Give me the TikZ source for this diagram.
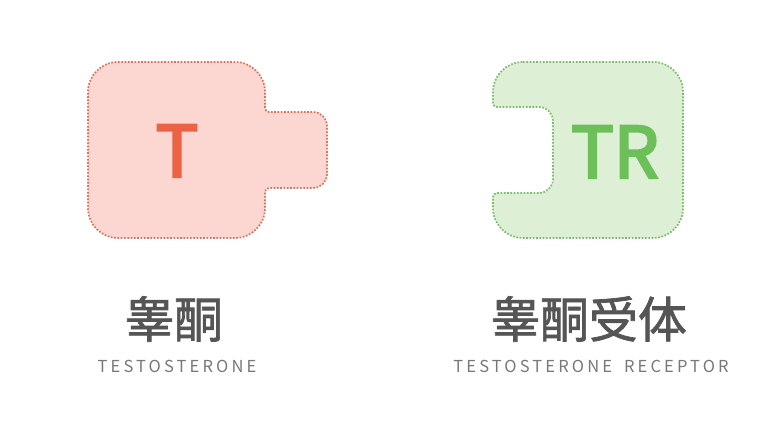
\documentclass[tikz,border=0pt]{standalone}
\usepackage{fontspec}
\usepackage{xcolor}
\usepackage{tikz}
\usetikzlibrary{positioning}
\setmainfont{Noto Sans CJK SC}
\newfontfamily\cjk[FakeBold=3.5]{Noto Sans CJK SC}
\newfontfamily\cjkmid[FakeBold=1.5]{Noto Sans CJK SC}
\newfontfamily\capsfont[LetterSpace=19]{Noto Sans CJK SC}
\definecolor{hormonefill}{RGB}{252,214,208}
\definecolor{hormoneline}{RGB}{222,112,92}
\definecolor{hormonetext}{RGB}{235,98,69}
\definecolor{receptorfill}{RGB}{221,240,213}
\definecolor{receptorline}{RGB}{120,190,104}
\definecolor{receptortext}{RGB}{109,191,90}
\definecolor{labeldark}{RGB}{85,85,85}
\definecolor{labelgray}{RGB}{120,120,120}
\tikzset{
  shapeline/.style={line width=1.7pt,dash pattern=on 1.7pt off 1.6pt},
  hormone/.style={shapeline,draw=hormoneline,fill=hormonefill},
  receptor/.style={shapeline,draw=receptorline,fill=receptorfill},
  bigletter/.style={inner sep=0pt,anchor=base,font=\cjk\fontsize{71}{71}\selectfont},
  cjklabel/.style={inner sep=0pt,anchor=center,text=labeldark,
    font=\cjkmid\fontsize{49}{49}\selectfont},
  enlabel/.style={inner sep=0pt,anchor=base,text=labelgray,
    font=\capsfont\fontsize{16.5}{16.5}\selectfont},
}
\begin{document}
\begin{tikzpicture}[x=1pt,y=1pt]
\useasboundingbox (0,0) rectangle (777,425);

%% ── testosterone ─────────────────────────────────────────────────────────
\draw[hormone] (118,363) -- (235,363) arc[start angle=90,end angle=0,radius=30]
  -- (265,317) arc[start angle=180,end angle=270,radius=4]
  -- (313,313) arc[start angle=90,end angle=0,radius=14]
  -- (327,251) arc[start angle=0,end angle=-90,radius=14]
  -- (269,237) arc[start angle=90,end angle=180,radius=4]
  -- (265,217) arc[start angle=0,end angle=-90,radius=30]
  -- (118,187) arc[start angle=270,end angle=180,radius=30]
  -- (88,333) arc[start angle=180,end angle=90,radius=30] -- cycle;
\node[bigletter,text=hormonetext] (tname) at (177,248) {T};
\node[cjklabel] (tcn) at (174,106) {睾酮};
\node[enlabel] (ten) at (177,52) {TESTOSTERONE};

%% ── testosterone receptor ────────────────────────────────────────────────
\draw[receptor] (523,363) -- (653,363) arc[start angle=90,end angle=0,radius=30]
  -- (683,217) arc[start angle=0,end angle=-90,radius=30]
  -- (523,187) arc[start angle=270,end angle=180,radius=30]
  -- (493,228) arc[start angle=180,end angle=90,radius=4]
  -- (539,232) arc[start angle=-90,end angle=0,radius=14]
  -- (553,304) arc[start angle=0,end angle=90,radius=14]
  -- (497,318) arc[start angle=270,end angle=180,radius=4]
  -- (493,333) arc[start angle=180,end angle=90,radius=30] -- cycle;
\node[bigletter,text=receptortext] (trname) at (615,247) {TR};
\node[cjklabel] (trcn) at (589,106) {睾酮受体};
\node[enlabel] (tren) at (591,52) {TESTOSTERONE\hspace{12pt}RECEPTOR};

\end{tikzpicture}
\end{document}
